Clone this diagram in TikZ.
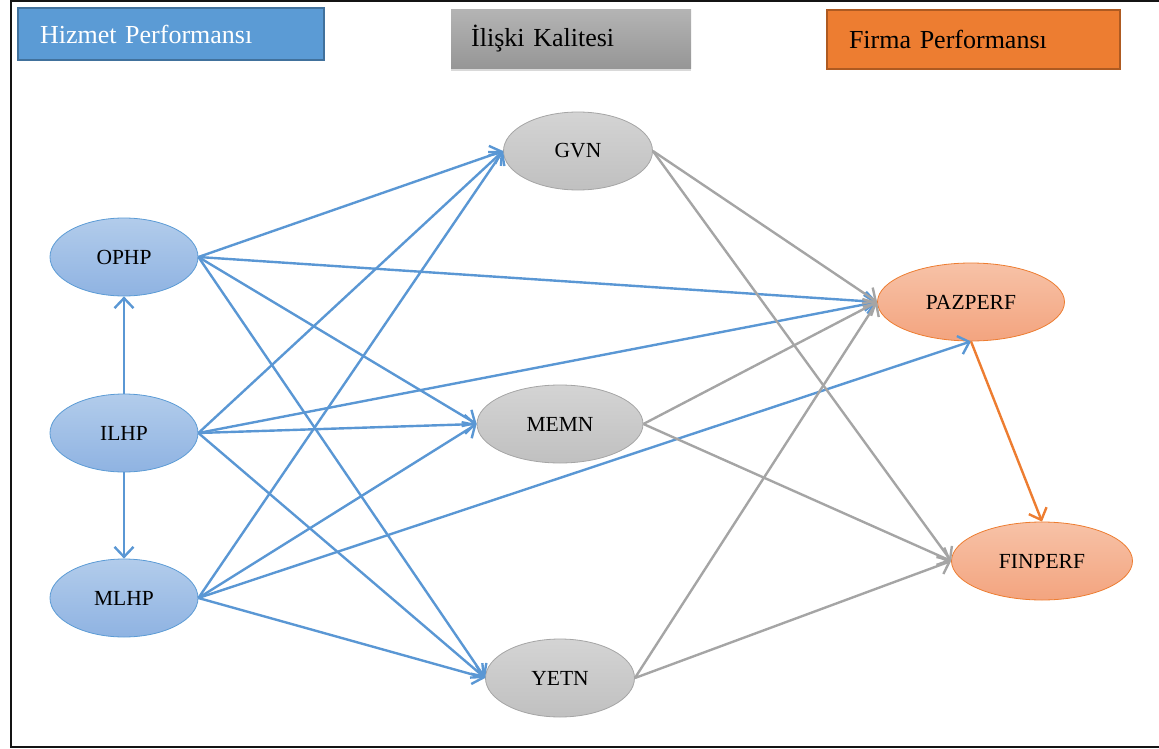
\documentclass[tikz,border=0pt]{standalone}
\usepackage{fontspec}
\setmainfont{Liberation Serif}
\usetikzlibrary{shapes.geometric,arrows.meta,shadows}
\definecolor{hblue}{HTML}{5B9BD5}
\definecolor{hblueb}{HTML}{41719C}
\definecolor{forange}{HTML}{ED7D31}
\definecolor{forangeb}{HTML}{AE5A21}
\definecolor{lblue}{HTML}{5A97D4}
\definecolor{lgray}{HTML}{A5A5A5}
\definecolor{lorange}{HTML}{ED7D31}
\definecolor{bluetop}{RGB}{178,204,235}
\definecolor{bluebot}{RGB}{143,179,226}
\definecolor{graytop}{RGB}{212,212,212}
\definecolor{graybot}{RGB}{192,192,192}
\definecolor{ortop}{RGB}{247,194,167}
\definecolor{orbot}{RGB}{243,164,127}
\definecolor{iktop}{RGB}{180,180,180}
\definecolor{ikbot}{RGB}{150,150,150}
\definecolor{framec}{RGB}{20,20,20}
\tikzset{
  ell/.style={ellipse, inner sep=0pt, minimum height=78pt, font=\fontsize{21.5}{25}\selectfont},
  blueell/.style={ell, draw=hblue, line width=0.8pt, top color=bluetop, bottom color=bluebot},
  grayell/.style={ell, draw=lgray, line width=0.8pt, top color=graytop, bottom color=graybot},
  orell/.style={ell, draw=forange, line width=0.8pt, top color=ortop, bottom color=orbot},
  hdr/.style={anchor=north west, rectangle, inner ysep=0pt, align=left, font=\fontsize{26}{30}\selectfont},
  arr/.style={line width=2.4pt, -{Straight Barb[length=10pt,width=19pt,line width=2.4pt]}},
  barr/.style={arr, draw=lblue},
  garr/.style={arr, draw=lgray},
  oarr/.style={arr, draw=lorange},
}
\begin{document}
\begin{tikzpicture}[x=1pt,y=-1pt]
\useasboundingbox (0,0) rectangle (1159,749);
\draw[line width=2pt, draw=framec] (11,1) rectangle (1165,747);
% headers
\node[hdr, fill=hblue, draw=hblueb, line width=2pt, text=white, minimum width=306pt, minimum height=52pt, text width=262pt, inner xsep=22pt] (hp) at (17,7) {Hizmet Performansı};
\node[hdr, top color=iktop, bottom color=ikbot, drop shadow={shadow xshift=0pt, shadow yshift=-3pt, opacity=0.3}, minimum width=240pt, minimum height=59pt, text width=200pt, inner xsep=20pt] (ik) at (451,9) {\raisebox{4pt}{İlişki Kalitesi}};
\node[hdr, fill=forange, draw=forangeb, line width=2pt, minimum width=293pt, minimum height=59pt, text width=249pt, inner xsep=22pt] (fp) at (826,9) {Firma Performansı};
% ellipses
\node[blueell, minimum width=148pt] (OPHP) at (124,257) {OPHP};
\node[blueell, minimum width=148pt] (ILHP) at (124,433) {ILHP};
\node[blueell, minimum width=148pt] (MLHP) at (124,598) {MLHP};
\node[grayell, minimum width=149pt] (GVN) at (578,151) {GVN};
\node[grayell, minimum width=166pt] (MEMN) at (560,424) {MEMN};
\node[grayell, minimum width=149pt] (YETN) at (560,678) {YETN};
\node[orell, minimum width=187pt] (PAZPERF) at (971,302) {PAZPERF};
\node[orell, minimum width=181pt] (FINPERF) at (1042,561) {FINPERF};
% blue arrows
\draw[barr] (OPHP.east) -- (GVN.west);
\draw[barr] (OPHP.east) -- (PAZPERF.west);
\draw[barr] (OPHP.east) -- (MEMN.west);
\draw[barr] (OPHP.east) -- (YETN.west);
\draw[barr] (ILHP.north) -- (OPHP.south);
\draw[barr] (ILHP.south) -- (MLHP.north);
\draw[barr] (ILHP.east) -- (GVN.west);
\draw[barr] (ILHP.east) -- (PAZPERF.west);
\draw[barr] (ILHP.east) -- (MEMN.west);
\draw[barr] (ILHP.east) -- (YETN.west);
\draw[barr] (MLHP.east) -- (GVN.west);
\draw[barr] (MLHP.east) -- (MEMN.west);
\draw[barr] (MLHP.east) -- (PAZPERF.south);
\draw[barr] (MLHP.east) -- (YETN.west);
% gray arrows
\draw[garr] (GVN.east) -- (PAZPERF.west);
\draw[garr] (GVN.east) -- (FINPERF.west);
\draw[garr] (MEMN.east) -- (PAZPERF.west);
\draw[garr] (MEMN.east) -- (FINPERF.west);
\draw[garr] (YETN.east) -- (PAZPERF.west);
\draw[garr] (YETN.east) -- (FINPERF.west);
% orange
\draw[oarr] (PAZPERF.south) -- (FINPERF.north);
\end{tikzpicture}
\end{document}
